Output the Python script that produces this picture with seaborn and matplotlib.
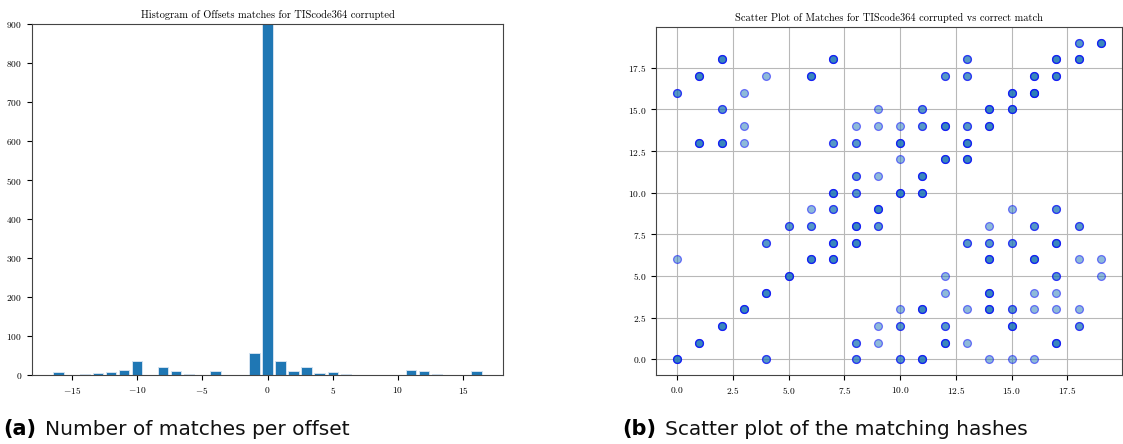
import numpy as np
import pandas as pd
import matplotlib
matplotlib.use("Agg")
import matplotlib.pyplot as plt
import seaborn as sns

# ---- Histogram data (offset -> number of matches) ----
offsets = [-16, -14, -13, -12, -11, -10, -8, -7, -6, -4, -1, 0, 1, 2, 3, 4, 5, 6, 11, 12, 13, 16]
match_counts = [8, 3, 6, 8, 14, 36, 20, 9, 3, 9, 57, 950, 35, 11, 20, 6, 8, 3, 13, 10, 3, 10]

# ---- Scatter data (corrupted index, correct index, number of overlapping hits) ----
sc_x = [18, 19,
        2, 7, 13, 17, 18,
        1, 4, 6, 12, 13, 16, 17,
        0, 3, 15, 16,
        2, 9, 11, 14, 15,
        3, 8, 9, 10, 11, 12, 13, 14,
        1, 2, 3, 7, 8, 10, 13,
        10, 12, 13,
        8, 9, 11,
        7, 8, 10, 11,
        6, 7, 9, 15, 17,
        5, 6, 8, 9, 14, 16, 18,
        4, 7, 8, 13, 14, 15, 17,
        0, 6, 7, 14, 16, 18, 19,
        5, 12, 17, 19,
        4, 12, 14, 16, 17,
        3, 10, 11, 13, 14, 15, 16, 17, 18,
        2, 9, 10, 12, 15, 18,
        1, 8, 9, 12, 13, 17,
        0, 4, 8, 10, 11, 14, 15, 16]
sc_y = [19, 19,
        18, 18, 18, 18, 18,
        17, 17, 17, 17, 17, 17, 17,
        16, 16, 16, 16,
        15, 15, 15, 15, 15,
        14, 14, 14, 14, 14, 14, 14, 14,
        13, 13, 13, 13, 13, 13, 13,
        12, 12, 12,
        11, 11, 11,
        10, 10, 10, 10,
        9, 9, 9, 9, 9,
        8, 8, 8, 8, 8, 8, 8,
        7, 7, 7, 7, 7, 7, 7,
        6, 6, 6, 6, 6, 6, 6,
        5, 5, 5, 5,
        4, 4, 4, 4, 4,
        3, 3, 3, 3, 3, 3, 3, 3, 3,
        2, 2, 2, 2, 2, 2,
        1, 1, 1, 1, 1, 1,
        0, 0, 0, 0, 0, 0, 0, 0]
sc_n = [2, 3,
        3, 3, 2, 3, 3,
        3, 1, 3, 2, 2, 3, 3,
        2, 1, 3, 4,
        2, 1, 2, 3, 3,
        1, 1, 1, 1, 2, 3, 2, 3,
        3, 3, 1, 2, 2, 3, 3,
        1, 3, 3,
        2, 1, 3,
        3, 2, 3, 3,
        1, 2, 3, 1, 2,
        2, 2, 3, 2, 1, 2, 2,
        2, 3, 3, 2, 2, 2, 3,
        1, 3, 3, 3, 3, 1, 1,
        3, 1, 2, 1,
        3, 1, 3, 1, 1,
        3, 1, 3, 1, 3, 2, 1, 1, 1,
        3, 1, 2, 2, 3, 2,
        3, 2, 1, 3, 1, 3,
        3, 2, 2, 2, 3, 1, 1, 1]

hist_df = pd.DataFrame({"offset": offsets, "count": match_counts})
pts = pd.DataFrame({"x": np.repeat(sc_x, sc_n), "y": np.repeat(sc_y, sc_n)})

plt.rcParams.update({
    "font.family": "serif",
    "font.serif": ["cmr10"],
    "mathtext.fontset": "cm",
    "axes.formatter.use_mathtext": True,
    "axes.unicode_minus": True,
})

W, H = 1123, 444
fig = plt.figure(figsize=(W / 100, H / 100), dpi=100)

# ---- Left: histogram ----
ax1 = fig.add_axes([32 / W, (H - 375) / H, (503 - 32) / W, (375 - 24) / H])
sns.histplot(data=hist_df, x="offset", weights="count", discrete=True, shrink=0.8,
             color="#1f77b4", alpha=1.0, edgecolor="#d3e2f0", linewidth=0.7, ax=ax1)
ax1.set_ylim(0, 900)
ax1.set_yticks(range(0, 901, 100))
ax1.set_xticks([-15, -10, -5, 0, 5, 10, 15])
ax1.set_xlabel("")
ax1.set_ylabel("")
ax1.set_title("Histogram of Offsets matches for TIScode364 corrupted", fontsize=7.5, pad=4)
ax1.tick_params(labelsize=6.8, length=3.5, width=0.8)
for s in ax1.spines.values():
    s.set_color("#444444")

# ---- Right: scatter ----
ax2 = fig.add_axes([656 / W, (H - 375) / H, (1122 - 656) / W, (375 - 27) / H])
sns.scatterplot(data=pts, x="x", y="y", color="#1f77b4", edgecolor="blue",
                linewidth=0.9, alpha=0.5, s=32, ax=ax2, zorder=3)
ax2.grid(True, color="#b8b8b8", linewidth=0.8)
ax2.set_axisbelow(True)
ax2.set_xlim(-0.95, 19.95)
ax2.set_ylim(-0.95, 19.95)
ax2.set_xticks(np.arange(0, 18, 2.5))
ax2.set_yticks(np.arange(0, 18, 2.5))
ax2.set_xlabel("")
ax2.set_ylabel("")
ax2.set_title("Scatter Plot of Matches for TIScode364 corrupted vs correct match", fontsize=7.5, pad=4)
ax2.tick_params(labelsize=6.8, length=3.5, width=0.8)
for s in ax2.spines.values():
    s.set_color("#444444")

# ---- Sub-captions ----
yb = 1 - 435 / H
fig.text(3 / W, yb, "(a)", fontsize=15, fontweight="bold", family="DejaVu Sans")
fig.text(45 / W, yb, "Number of matches per offset", fontsize=14.5, family="DejaVu Sans", color="#111111")
fig.text(622 / W, yb, "(b)", fontsize=15, fontweight="bold", family="DejaVu Sans")
fig.text(665 / W, yb, "Scatter plot of the matching hashes", fontsize=14.5, family="DejaVu Sans", color="#111111")

fig.savefig("out.png", dpi=100)
